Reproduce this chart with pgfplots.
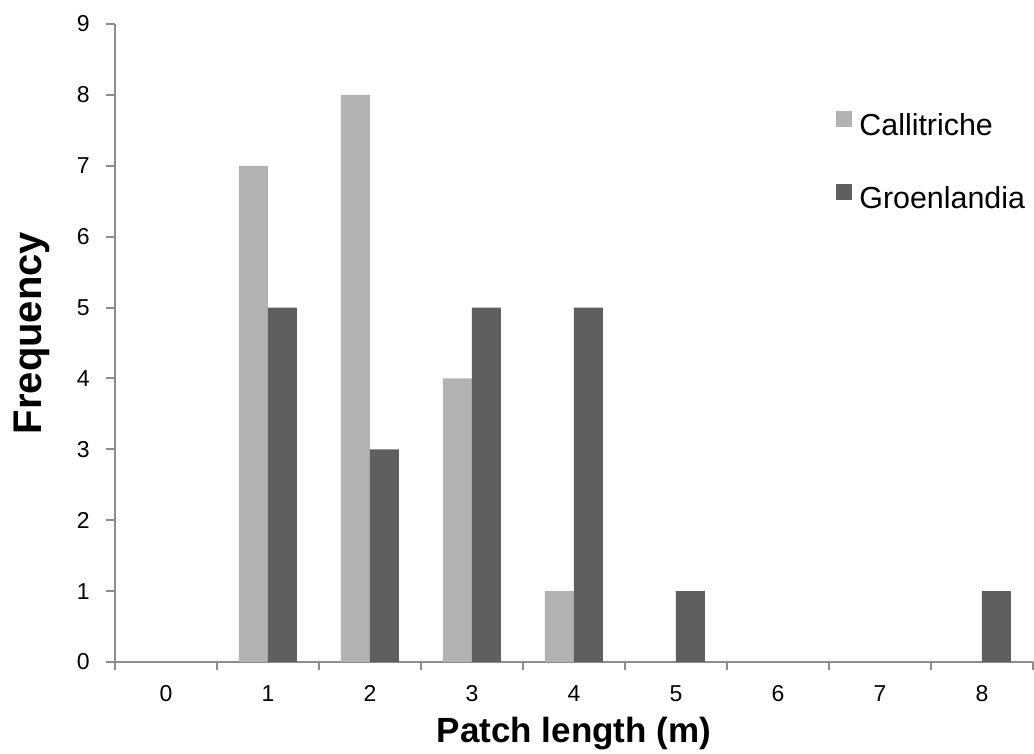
\documentclass[border=0pt]{standalone}
\usepackage{fontspec}
\setmainfont{Liberation Sans}
\usepackage{pgfplots}
\pgfplotsset{compat=1.18}

\definecolor{lightbar}{HTML}{B2B2B2}
\definecolor{darkbar}{HTML}{5F5F5F}
\definecolor{axgray}{HTML}{8C8C8C}

\begin{document}
\begin{tikzpicture}
% page frame: 1px of the reference = 0.5pt
\path[use as bounding box] (-57.5pt,-46pt) rectangle (459.5pt,331pt);
\begin{axis}[
    at={(0,0)}, anchor=south west,
    scale only axis,
    width=459pt, height=319pt,
    xmin=-0.5, xmax=8.5,
    ymin=0, ymax=9,
    axis lines*=left,
    axis line style={axgray, line width=1pt},
    every tick/.style={axgray, line width=1pt},
    tick align=outside,
    xtick={0,...,8},
    major x tick style={draw=none},
    minor xtick={-0.5,0.5,...,8.5},
    minor tick length=4pt,
    ytick={0,...,9},
    major tick length=4.5pt,
    tick label style={font=\fontsize{11.5}{14}\selectfont},
    /pgf/number format/assume math mode=true,
    xticklabel style={anchor=base, yshift=-15.5pt},
    yticklabel style={anchor=east, inner sep=0pt, xshift=-8pt},
    xlabel={Patch length (m)},
    ylabel={Frequency},
    xlabel style={font=\fontsize{17.5}{21}\selectfont\bfseries,
        at={(axis description cs:0.5,0)}, anchor=base, yshift=-40.5pt},
    ylabel style={font=\fontsize{20}{24}\selectfont\bfseries,
        at={([xshift=-36.5pt,yshift=5pt]axis description cs:0,0.5)}, anchor=base},
    ybar=0pt, bar width=14.5pt,
    legend style={at={([xshift=360.5pt,yshift=-43.5pt]axis description cs:0,1)},
        anchor=north west, draw=none, fill=none, inner sep=0pt,
        font=\fontsize{15.2}{18}\selectfont,
        nodes={text height=11pt, text depth=3pt, inner sep=0pt},
        row sep=21.5pt, column sep=3.5pt},
    legend cell align=left,
    legend image code/.code={\fill[#1] (0pt,0pt) rectangle (8pt,8pt);},
]
\addplot[fill=lightbar, draw=none] coordinates {
    (1,7) (2,8) (3,4) (4,1)
};
\addlegendentry{Callitriche}
\addplot[fill=darkbar, draw=none] coordinates {
    (1,5) (2,3) (3,5) (4,5) (5,1) (8,1)
};
\addlegendentry{Groenlandia}
\end{axis}
\end{tikzpicture}
\end{document}
